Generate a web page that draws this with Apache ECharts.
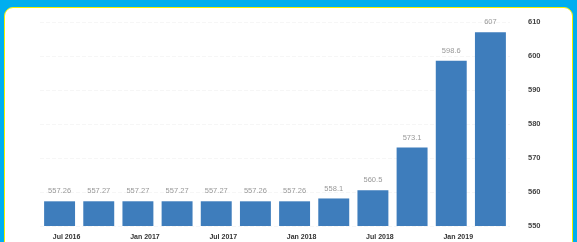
<!DOCTYPE html>
<html>
<head>
<meta charset="utf-8">
<script src="https://cdn.jsdelivr.net/npm/echarts@6/dist/echarts.min.js"></script>
<style>
  html, body { margin: 0; padding: 0; background: #00aeef; }
  #panel {
    position: absolute; left: 4px; top: 7px; width: 567px; height: 250px;
    background: #fff; border: 1px solid #f2f000; border-radius: 9px;
  }
  #chart { position: absolute; left: 0; top: 0; width: 577px; height: 242px; }
</style>
</head>
<body>
<div id="panel"></div>
<div id="chart"></div>
<script>
// quarterly values
var quarters = ['Jul 2016', 'Oct 2016', 'Jan 2017', 'Apr 2017', 'Jul 2017', 'Oct 2017',
                'Jan 2018', 'Apr 2018', 'Jul 2018', 'Oct 2018', 'Jan 2019', 'Apr 2019'];
var values = [557.26, 557.27, 557.27, 557.27, 557.27, 557.26, 557.26, 558.1, 560.5, 573.1, 598.6, 607];
var yTicks = [550, 560, 570, 580, 590, 600, 610];

var myChart = echarts.init(document.getElementById('chart'));
myChart.setOption({
    animation: false,
    grid: { left: 40, right: 67, top: 22, bottom: 16, containLabel: false },
    xAxis: {
        type: 'category',
        data: quarters,
        axisLine: { show: false },
        axisTick: { show: false },
        axisLabel: {
            interval: 1,
            margin: 8,
            padding: [0, 0, 0, 14],
            color: '#333',
            fontSize: 7,
            fontWeight: 'bold',
            fontFamily: 'Liberation Sans'
        }
    },
    yAxis: {
        type: 'value',
        position: 'right',
        min: yTicks[0],
        max: yTicks[yTicks.length - 1],
        interval: 10,
        axisLine: { show: false },
        axisTick: { show: false },
        axisLabel: {
            margin: 18,
            color: '#444',
            fontSize: 7.5,
            fontWeight: 'bold',
            fontFamily: 'Liberation Sans'
        },
        splitLine: { lineStyle: { color: '#f6f6f6', type: 'dashed' } }
    },
    series: [{
        type: 'bar',
        data: values,
        barWidth: '79%',
        itemStyle: { color: '#3e7dbc' },
        label: {
            show: true,
            position: 'top',
            distance: 6,
            color: '#999',
            fontSize: 7.5,
            fontFamily: 'Liberation Sans'
        }
    }]
});
</script>
</body>
</html>
